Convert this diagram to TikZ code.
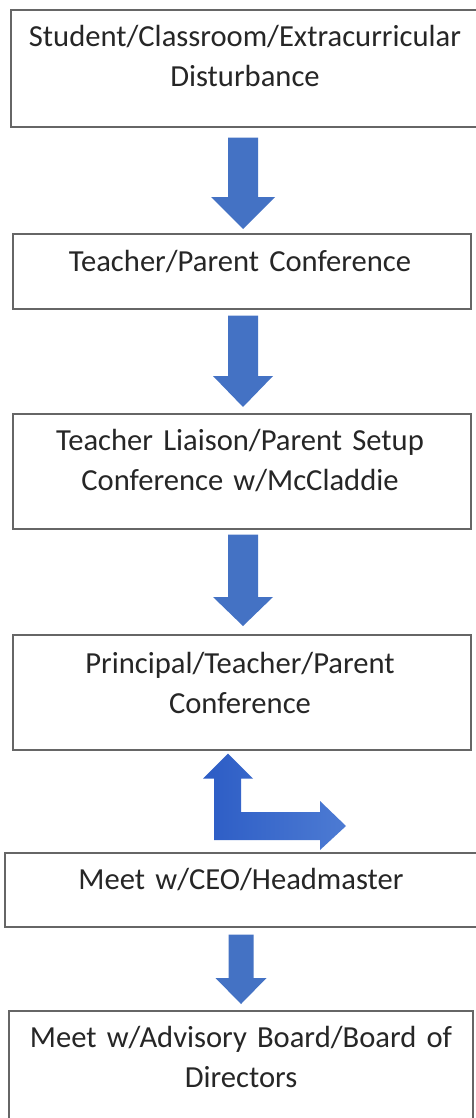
\documentclass[tikz,border=0pt]{standalone}
\usepackage{fontspec}
\setmainfont[WordSpace=0.8]{Carlito}
\usetikzlibrary{calc}
\definecolor{boxline}{HTML}{666666}
\definecolor{txt}{HTML}{262626}
\definecolor{arrowblue}{HTML}{4472C4}
\definecolor{bentL}{HTML}{2C5CC5}
\definecolor{bentR}{HTML}{4D7BD3}
% #1 from node, #2 to node, #3 x centre, #4 gap below source, #5 gap above target,
% #6 shaft half width, #7 head half width, #8 head length
\newcommand\blockdn[8]{%
  \fill[arrowblue] let \p1=(#1.south), \p2=(#2.north) in
    ({#3pt-#6pt},{\y1-#4pt}) -- ({#3pt+#6pt},{\y1-#4pt})
    -- ({#3pt+#6pt},{\y2+#5pt+#8pt}) -- ({#3pt+#7pt},{\y2+#5pt+#8pt})
    -- ({#3pt},{\y2+#5pt})
    -- ({#3pt-#7pt},{\y2+#5pt+#8pt}) -- ({#3pt-#6pt},{\y2+#5pt+#8pt}) -- cycle;}
\begin{document}
\begin{tikzpicture}[x=1pt,y=-1pt,
  box/.style={draw=boxline,line width=1.7pt,fill=white,rectangle,inner sep=0pt,anchor=north west},
  label text/.style={anchor=base,text width=465pt,align=center,inner sep=0pt,text=txt,
    font=\fontsize{30.6}{40}\selectfont}]
\useasboundingbox[fill=white] (0,0) rectangle (475,1118);

% boxes
\node[box,minimum width=470pt,minimum height=117pt] (b1) at (10,9) {};
\node[box,minimum width=458pt,minimum height=75pt]  (b2) at (12,233) {};
\node[box,minimum width=458pt,minimum height=115pt] (b3) at (12,413) {};
\node[box,minimum width=458pt,minimum height=115pt] (b4) at (12,634) {};
\node[box,minimum width=476pt,minimum height=74pt]  (b5) at (4,852) {};
\node[box,minimum width=464pt,minimum height=125pt] (b6) at (8,1010) {};

% texts
\node[label text] (t1) at (245,47)  {Student/Classroom/Extracurricular\\Disturbance};
\node[label text] (t2) at (240,271) {Teacher/Parent Conference};
\node[label text] (t3) at (240,450) {Teacher Liaison/Parent Setup\\Conference w/McCladdie};
\node[label text] (t4) at (240,673) {Principal/Teacher/Parent\\Conference};
\node[label text] (t5) at (241,889) {Meet w/CEO/Headmaster};
\node[label text] (t6) at (241,1047) {Meet w/Advisory Board/Board of\\Directors};

% block arrows
\blockdn{b1}{b2}{243}{10}{4}{15}{32}{32}
\blockdn{b2}{b3}{243}{6}{6}{15}{30}{31}
\blockdn{b3}{b4}{243}{5}{8}{15}{30}{29}
\blockdn{b5}{b6}{241}{7}{6}{12.5}{25.5}{26}

% bent arrow between b4 and b5
\shade[left color=bentL,right color=bentR] let \p1=(b4.south), \p2=(b5.north) in
  (228pt,{\y1-3pt}) -- (253pt,{\y1-28pt}) -- (241pt,{\y1-28pt})
  -- (241pt,{\y2+40pt}) -- (320pt,{\y2+40pt}) -- (320pt,{\y2+51pt})
  -- (346pt,{\y2+26pt}) -- (320pt,{\y2+2pt}) -- (320pt,{\y2+12pt})
  -- (214pt,{\y2+12pt}) -- (214pt,{\y1-28pt}) -- (203pt,{\y1-28pt}) -- cycle;
\end{tikzpicture}
\end{document}
